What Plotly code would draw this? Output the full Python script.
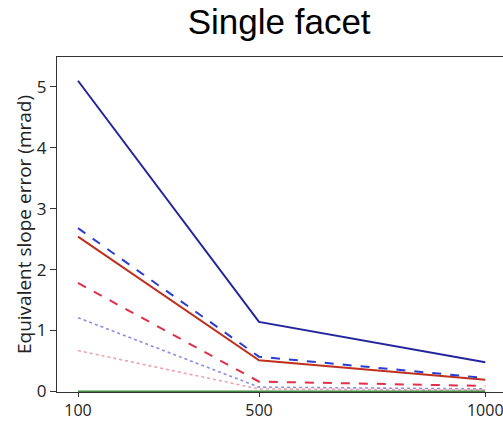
import plotly.graph_objects as go

# Number of rays traced
rays = [100, 500, 1000]

# Equivalent slope error (mrad) for each configuration
blue_solid = [5.10, 1.14, 0.48]
blue_dashed = [2.68, 0.57, 0.22]
red_solid = [2.54, 0.51, 0.19]
red_dashed = [1.78, 0.16, 0.09]
blue_dotted = [1.21, 0.07, 0.04]
red_dotted = [0.67, 0.04, 0.02]
reference = [0, 0, 0]

series = [
    (blue_dotted, "#8c8ce0", "dot", 1.6),
    (red_dotted, "#f0a0ae", "dot", 1.6),
    (red_dashed, "#e0304a", "dash", 2),
    (red_solid, "#c0301e", "solid", 2),
    (blue_dashed, "#2a3ed2", "dash", 2),
    (blue_solid, "#24249e", "solid", 2),
    (reference, "#3f8a3f", "solid", 2),
]

fig = go.Figure()
for values, color, dash, width in series:
    fig.add_trace(go.Scatter(
        x=rays, y=values, mode="lines",
        line=dict(color=color, dash=dash, width=width),
        showlegend=False, cliponaxis=False,
    ))

tick_font = dict(family="Open Sans", size=16, color="#222")

fig.update_layout(
    width=503, height=421,
    margin=dict(l=57, r=0, t=57, b=29, autoexpand=False),
    paper_bgcolor="white", plot_bgcolor="white",
    title=dict(
        text="Single facet",
        x=0.555, xanchor="center", y=0.948, yanchor="middle",
        font=dict(family="Liberation Sans, Arial", size=35, color="black"),
    ),
    font=dict(family="Open Sans", color="#222"),
)

fig.update_xaxes(
    range=[53.6, 1039.2],
    tickvals=rays, ticktext=[str(r) for r in rays],
    ticks="outside", ticklen=4, tickcolor="#333", tickwidth=1,
    showline=True, linecolor="#333", linewidth=1.2, mirror=True,
    showgrid=False, zeroline=False,
    tickfont=tick_font, ticklabeloverflow="allow",
    automargin=False,
    layer="below traces",
)
fig.update_yaxes(
    range=[-0.01, 5.49],
    tickvals=[0, 1, 2, 3, 4, 5],
    ticks="outside", ticklen=6, tickcolor="#333", tickwidth=1,
    showline=True, linecolor="#333", linewidth=1.2,
    showgrid=False, zeroline=False,
    tickfont=dict(family="Open Sans", size=17, color="#222"),
    title=dict(text="Equivalent slope error (mrad)",
               font=dict(family="Open Sans", size=19, color="#222"),
               standoff=0),
    automargin=False,
    layer="below traces",
)

fig.write_html("out.html")
